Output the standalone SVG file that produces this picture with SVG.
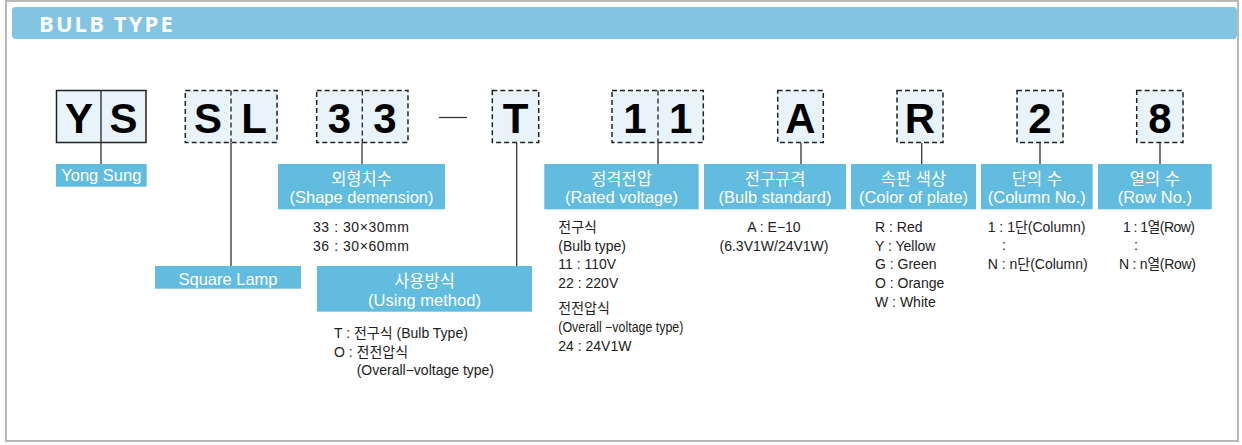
<svg xmlns="http://www.w3.org/2000/svg" width="1242" height="445" viewBox="0 0 1242 445">
<style>
.frame{fill:#fff;stroke:#b9b9b9;stroke-width:2}
.hdr{fill:#82c4e2}
.hdrt{font-family:"Open Sans","Liberation Sans",sans-serif;font-weight:bold;font-size:22px;letter-spacing:2.1px;fill:#fff}
.box{fill:#e8f4f9;stroke:#222;stroke-width:1.5}
.dash{stroke-dasharray:5 3}
.div{stroke:#222;stroke-width:1.3}
.ch{font-family:"Liberation Sans",Arial,sans-serif;font-weight:bold;font-size:42px;fill:#000;text-anchor:middle}
.lab{fill:#62bce0}
.lt{font-family:"Liberation Sans","Noto Sans CJK KR",sans-serif;font-size:16.5px;fill:#fff;text-anchor:middle}
.tx{font-family:"Liberation Sans","Noto Sans CJK KR",sans-serif;font-size:14px;fill:#222}
.mid{text-anchor:middle}
.con{stroke:#333;stroke-width:1.3;fill:none}
</style>
<rect class="frame" x="6" y="1" width="1232" height="440"/>
<g id="header">
<rect class="hdr" x="12" y="7" width="1225" height="32" rx="4"/>
<text class="hdrt" x="39" y="31.5">BULB TYPE</text>
</g>
<g id="connectors">
<line class="con" x1="101" y1="143" x2="101" y2="164"/>
<line class="con" x1="231" y1="143" x2="231" y2="266"/>
<line class="con" x1="362" y1="143" x2="362" y2="164"/>
<line class="con" x1="516.7" y1="143" x2="516.7" y2="266"/>
<line class="con" x1="658" y1="143" x2="658" y2="164"/>
<line class="con" x1="801" y1="143" x2="801" y2="164"/>
<line class="con" x1="921.7" y1="143" x2="921.7" y2="164"/>
<line class="con" x1="1040" y1="143" x2="1040" y2="164"/>
<line class="con" x1="1160" y1="143" x2="1160" y2="164"/>
<line class="con" x1="439" y1="117.5" x2="467" y2="117.5"/>
</g>
<g id="node-YS">
<rect class="box" x="56.5" y="90.5" width="89.5" height="52"/>
<line class="div" x1="101" y1="90.5" x2="101" y2="142.5"/>
<text class="ch" x="79" y="133">Y</text>
<text class="ch" x="123.5" y="133">S</text>
</g>
<g id="node-SL">
<rect class="box dash" x="185.3" y="90.5" width="91.7" height="52"/>
<line class="div dash" x1="231" y1="90.5" x2="231" y2="142.5"/>
<text class="ch" x="208" y="133">S</text>
<text class="ch" x="254" y="133">L</text>
</g>
<g id="node-33">
<rect class="box dash" x="316.7" y="90.5" width="91.3" height="52"/>
<line class="div dash" x1="362.3" y1="90.5" x2="362.3" y2="142.5"/>
<text class="ch" x="339.5" y="133">3</text>
<text class="ch" x="385" y="133">3</text>
</g>
<g id="node-T">
<rect class="box dash" x="492.3" y="90.5" width="46.4" height="52"/>
<text class="ch" x="515.5" y="133">T</text>
</g>
<g id="node-11">
<rect class="box dash" x="612" y="90.5" width="91.3" height="52"/>
<line class="div dash" x1="658" y1="90.5" x2="658" y2="142.5"/>
<text class="ch" x="635" y="133">1</text>
<text class="ch" x="680.7" y="133">1</text>
</g>
<g id="node-A">
<rect class="box dash" x="777.7" y="90.5" width="45.6" height="52"/>
<text class="ch" x="800.5" y="133">A</text>
</g>
<g id="node-R">
<rect class="box dash" x="897" y="90.5" width="46" height="52"/>
<text class="ch" x="920" y="133">R</text>
</g>
<g id="node-2">
<rect class="box dash" x="1017" y="90.5" width="46" height="52"/>
<text class="ch" x="1040" y="133">2</text>
</g>
<g id="node-8">
<rect class="box dash" x="1136.7" y="90.5" width="46.3" height="52"/>
<text class="ch" x="1160" y="133">8</text>
</g>
<g id="label-yongsung">
<rect class="lab" x="56" y="164" width="90.7" height="22.7"/>
<text class="lt" x="101.3" y="181">Yong Sung</text>
</g>
<g id="label-squarelamp">
<rect class="lab" x="155" y="266" width="146" height="22.7"/>
<text class="lt" x="228" y="284.5">Square Lamp</text>
</g>
<g id="label-shape">
<rect class="lab" x="278" y="164" width="167" height="45.3"/>
<text class="lt" x="361.5" y="185">외형치수</text>
<text class="lt" x="361.5" y="203">(Shape demension)</text>
</g>
<g id="text-shape">
<text class="tx" x="313" y="231.5" textLength="96">33 : 30×30mm</text>
<text class="tx" x="313" y="250.5" textLength="96">36 : 30×60mm</text>
</g>
<g id="label-using">
<rect class="lab" x="317" y="266" width="215" height="45.7"/>
<text class="lt" x="424.5" y="287">사용방식</text>
<text class="lt" x="424.5" y="305.5">(Using method)</text>
</g>
<g id="text-using">
<text class="tx" x="334" y="338">T : 전구식 (Bulb Type)</text>
<text class="tx" x="334" y="356.7">O : 전전압식</text>
<text class="tx" x="356.7" y="375">(Overall−voltage type)</text>
</g>
<g id="label-rated">
<rect class="lab" x="544.3" y="164" width="154.4" height="45.3"/>
<text class="lt" x="621.5" y="185">정격전압</text>
<text class="lt" x="621.5" y="203">(Rated voltage)</text>
</g>
<g id="text-rated">
<text class="tx" x="558.3" y="231.5">전구식</text>
<text class="tx" x="558.3" y="250.5">(Bulb type)</text>
<text class="tx" x="558.3" y="269">11 : 110V</text>
<text class="tx" x="558.3" y="287.5">22 : 220V</text>
<text class="tx" x="558.3" y="313">전전압식</text>
<text class="tx" x="558.3" y="332" textLength="125" lengthAdjust="spacingAndGlyphs">(Overall −voltage type)</text>
<text class="tx" x="558.3" y="350.7">24 : 24V1W</text>
</g>
<g id="label-bulbstd">
<rect class="lab" x="704" y="164" width="142" height="45.3"/>
<text class="lt" x="775" y="185">전구규격</text>
<text class="lt" x="775" y="203">(Bulb standard)</text>
</g>
<g id="text-bulbstd">
<text class="tx mid" x="774" y="231.5">A : E−10</text>
<text class="tx mid" x="774" y="250.5">(6.3V1W/24V1W)</text>
</g>
<g id="label-color">
<rect class="lab" x="851" y="164" width="125" height="45.3"/>
<text class="lt" x="913.5" y="185">속판 색상</text>
<text class="lt" x="913.5" y="203">(Color of plate)</text>
</g>
<g id="text-color">
<text class="tx" x="875" y="231.5">R : Red</text>
<text class="tx" x="875" y="250.5">Y : Yellow</text>
<text class="tx" x="875" y="269">G : Green</text>
<text class="tx" x="875" y="288">O : Orange</text>
<text class="tx" x="875" y="306.7">W : White</text>
</g>
<g id="label-column">
<rect class="lab" x="981" y="164" width="111.7" height="45.3"/>
<text class="lt" x="1036.8" y="185">단의 수</text>
<text class="lt" x="1036.8" y="203">(Column No.)</text>
</g>
<g id="text-column">
<text class="tx" x="987.7" y="231.5">1  : 1단(Column)</text>
<text class="tx" x="1002" y="250">:</text>
<text class="tx" x="987.7" y="268.5">N : n단(Column)</text>
</g>
<g id="label-row">
<rect class="lab" x="1098" y="164" width="113.7" height="45.3"/>
<text class="lt" x="1154.8" y="185">열의 수</text>
<text class="lt" x="1154.8" y="203">(Row No.)</text>
</g>
<g id="text-row">
<text class="tx" x="1123" y="231.5" textLength="72">1 : 1열(Row)</text>
<text class="tx" x="1134" y="250">:</text>
<text class="tx" x="1119" y="268.5" textLength="77">N : n열(Row)</text>
</g>
</svg>
